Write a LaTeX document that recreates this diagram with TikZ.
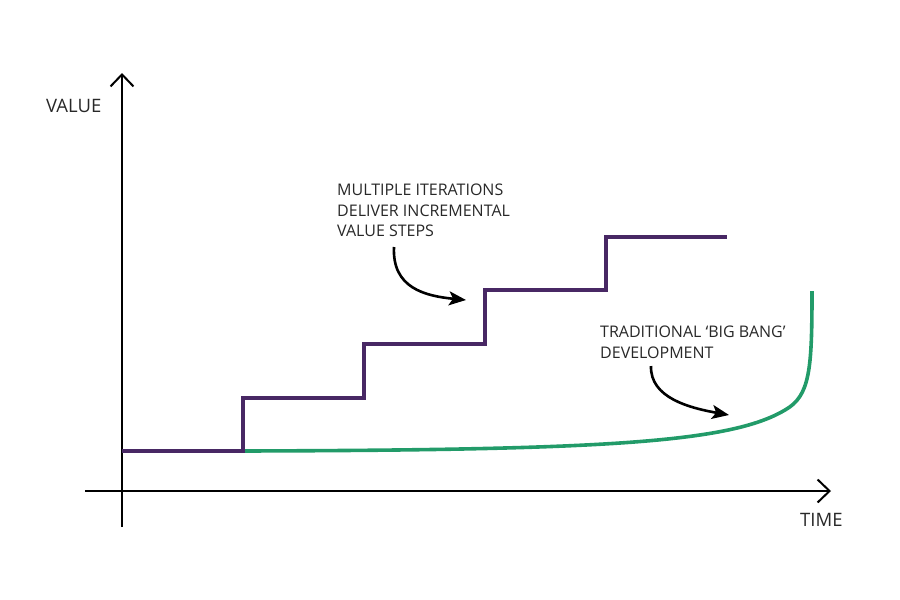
\documentclass[tikz,border=0pt]{standalone}
\usepackage{fontspec}
\setmainfont{Open Sans}
\usetikzlibrary{arrows.meta}
\definecolor{stepcol}{RGB}{72,40,100}
\definecolor{bangcol}{RGB}{34,155,105}
\definecolor{txtcol}{RGB}{40,40,40}
\tikzset{
  axisline/.style={line width=2pt, -{Straight Barb[length=12pt,width=23pt,line width=2pt]}},
  label/.style={font=\fontsize{16}{20.5}\selectfont, text=txtcol, inner sep=0pt, align=left},
  axislabel/.style={font=\fontsize{18.5}{22}\selectfont, text=txtcol, inner sep=0pt},
  pointer/.style={line width=2.6pt, -{Stealth[length=17pt,width=14pt,inset=4pt]}},
  stepline/.style={stepcol, line width=3.6pt},
  bangline/.style={bangcol, line width=3.6pt}
}
\begin{document}
\begin{tikzpicture}[x=1pt,y=-1pt]
\useasboundingbox (0,0) rectangle (900,600);
% axes
\coordinate (ybot) at (122,527);
\coordinate (ytop) at (122,73);
\coordinate (xl) at (85,491);
\coordinate (xr) at (831,491);
\draw[axisline] (ybot) -- (ytop);
\draw[axisline] (xl) -- (xr);
\node[axislabel, anchor=base west] (value) at (46,112) {VALUE};
\node[axislabel, anchor=base west] (time) at (800,526) {TIME};
% green big bang curve
\coordinate (g0) at (243,451);
\coordinate (g1) at (785,410);
\coordinate (g2) at (812,291);
\draw[bangline] (g0) .. controls (600,450) and (730,443) .. (g1)
  .. controls (810,396) and (812,370) .. (g2);
% purple steps
\coordinate (s0) at (122,451);
\draw[stepline, line join=miter] (s0) -- (243,451) -- (243,398) -- (364,398) -- (364,344)
  -- (485,344) -- (485,290) -- (606,290) -- (606,237) -- (727,237);
% annotations
\node[label, anchor=north west] (t1) at (337,184) {MULTIPLE ITERATIONS\\DELIVER INCREMENTAL\\VALUE STEPS};
\node[label, anchor=north west] (t2) at (600,326) {TRADITIONAL ‘BIG BANG’\\DEVELOPMENT};
\coordinate (a1s) at (394,247);
\coordinate (a1e) at (466,300);
\coordinate (a2s) at (651,366);
\coordinate (a2e) at (729,415);
\draw[pointer] (a1s) .. controls (392,288) and (425,296) .. (a1e);
\draw[pointer] (a2s) .. controls (650,398) and (690,408) .. (a2e);
\end{tikzpicture}
\end{document}
